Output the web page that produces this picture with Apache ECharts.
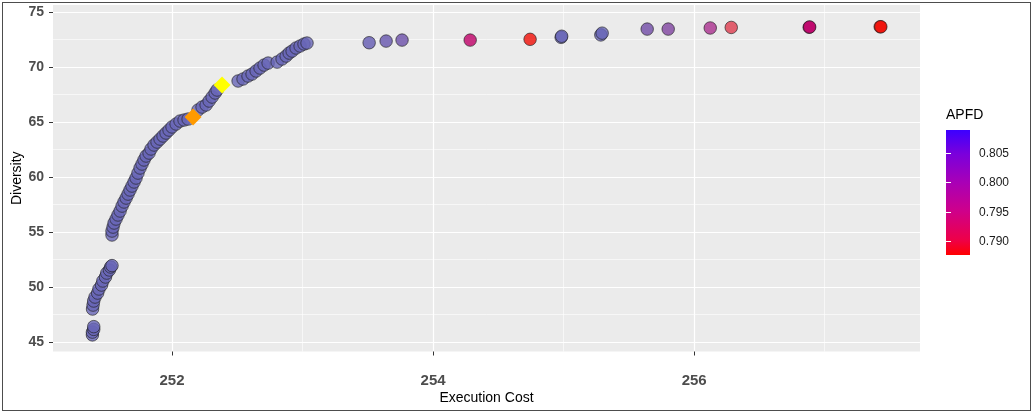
<!DOCTYPE html>
<html>
<head>
<meta charset="utf-8">
<script src="https://cdn.jsdelivr.net/npm/echarts@6/dist/echarts.min.js"></script>
<style>
  html, body { margin: 0; padding: 0; background: #ffffff; }
  #chart { position: absolute; left: 0; top: 0; width: 1033px; height: 414px; }
  #frame { position: absolute; left: 2px; top: 2px; width: 1027px; height: 407px;
           border: 1px solid #4d4d4d; pointer-events: none; }
</style>
</head>
<body>
<div id="chart"></div>
<div id="frame"></div>
<script>
// Candidate solutions: execution cost vs. diversity, filled by APFD
const cost = [
  251.390, 251.390, 251.400, 251.400,
  251.391, 251.395, 251.400, 251.410, 251.430, 251.440, 251.460, 251.470, 251.490, 251.500, 251.520, 251.530, 251.540,
  251.540, 251.540, 251.548, 251.556, 251.571, 251.586, 251.602, 251.617, 251.632, 251.648,
  251.663, 251.678, 251.693, 251.709, 251.724, 251.739, 251.755, 251.770, 251.785, 251.801,
  251.824, 251.839, 251.862, 251.885, 251.908, 251.931, 251.954, 251.977, 252.000, 252.031,
  252.061, 252.092, 252.123, 252.199, 252.230, 252.261, 252.284, 252.307, 252.330, 252.345,
  252.506, 252.544, 252.582, 252.613, 252.644, 252.674, 252.705, 252.736, 252.805, 252.843,
  252.874, 252.897, 252.920, 252.950, 252.981, 253.011, 253.034,
  253.510, 253.640, 253.762, 254.284, 254.743, 254.981, 254.985, 255.285, 255.295,
  255.640, 255.801, 256.123, 256.284, 256.881, 256.885, 257.425, 257.430
];
const diversity = [
  45.65, 45.90, 46.15, 46.40,
  48.00, 48.36, 48.73, 49.09, 49.45, 49.82, 50.18, 50.55, 50.91, 51.27, 51.55, 51.82, 51.95,
  54.73, 55.09, 55.45, 55.82, 56.18, 56.55, 56.91, 57.36, 57.73, 58.09,
  58.45, 58.82, 59.18, 59.55, 59.91, 60.36, 60.82, 61.18, 61.55, 61.91,
  62.18, 62.55, 62.91, 63.18, 63.45, 63.73, 64.00, 64.27, 64.55, 64.82,
  65.09, 65.18, 65.27, 66.09, 66.36, 66.55, 66.91, 67.27, 67.64, 67.91,
  68.73, 68.91, 69.18, 69.36, 69.64, 69.91, 70.18, 70.36, 70.45, 70.73,
  71.00, 71.27, 71.45, 71.73, 71.91, 72.09, 72.18,
  72.21, 72.36, 72.45, 72.45, 72.52, 72.70, 72.80, 72.92, 73.08,
  73.45, 73.45, 73.55, 73.60, 73.62, 73.64, 73.66, 73.66
];
const apfd = [
  0.808, 0.808, 0.808, 0.808,
  0.808, 0.808, 0.808, 0.808, 0.808, 0.808, 0.808, 0.808, 0.808, 0.808, 0.808, 0.808, 0.808,
  0.808, 0.808, 0.808, 0.808, 0.808, 0.808, 0.808, 0.808, 0.808, 0.808,
  0.808, 0.808, 0.808, 0.808, 0.808, 0.808, 0.808, 0.808, 0.808, 0.808,
  0.808, 0.808, 0.808, 0.808, 0.808, 0.808, 0.808, 0.808, 0.808, 0.808,
  0.808, 0.808, 0.808, 0.808, 0.808, 0.808, 0.808, 0.808, 0.808, 0.808,
  0.808, 0.808, 0.808, 0.808, 0.808, 0.808, 0.808, 0.808, 0.808, 0.808,
  0.808, 0.808, 0.808, 0.808, 0.808, 0.808, 0.808,
  0.8058, 0.8048, 0.8035, 0.7948, 0.7880, 0.8080, 0.8080, 0.8080, 0.8080,
  0.8025, 0.8012, 0.7985, 0.7913, 0.7950, 0.7950, 0.7880, 0.7880
];

// Two highlighted solutions drawn as diamonds
const markedCost = [252.161, 252.383];
const markedDiversity = [65.45, 68.36];

// Axis breaks
const costTicks = [252, 254, 256];
const costMinor = [253, 255, 257];
const diversityTicks = [45, 50, 55, 60, 65, 70, 75];
const diversityMinor = [47.5, 52.5, 57.5, 62.5, 67.5, 72.5];
const apfdTicks = [0.790, 0.795, 0.800, 0.805];
const apfdRange = [0.78774, 0.80895];

const costRange = [251.088, 257.73];
const diversityRange = [44.14, 75.64];

const FONT = '"Liberation Sans", Arial, sans-serif';

const points = cost.map((c, i) => [c, diversity[i], apfd[i]]);

const chart = echarts.init(document.getElementById('chart'), null, { renderer: 'canvas' });

chart.setOption({
  animation: false,
  backgroundColor: '#ffffff',
  textStyle: { fontFamily: FONT },
  grid: [
    { left: 53, right: 113, top: 5, bottom: 62.5, show: true,
      backgroundColor: '#EBEBEB', borderWidth: 0, containLabel: false, outerBoundsMode: 'none' },
    { left: 946, top: 130, width: 24, height: 125, show: false,
      containLabel: false, outerBoundsMode: 'none' }
  ],
  xAxis: [
    {
      type: 'value', gridIndex: 0, min: costRange[0], max: costRange[1],
      axisLine: { show: false },
      axisTick: { show: true, length: 4, customValues: costTicks,
                  lineStyle: { color: '#333333', width: 1 } },
      axisLabel: { customValues: costTicks, margin: 22, fontSize: 15, fontWeight: 'bold',
                   color: '#4D4D4D', fontFamily: FONT },
      splitLine: { show: true, lineStyle: { color: '#FFFFFF', width: 1.2 } },
      name: 'Execution Cost', nameLocation: 'middle', nameGap: 40, nameMoveOverlap: false,
      nameTextStyle: { fontSize: 14, color: '#000000', fontFamily: FONT }
    },
    {
      type: 'value', gridIndex: 0, position: 'bottom', min: costRange[0], max: costRange[1],
      axisLine: { show: false },
      axisTick: { show: false, customValues: costMinor },
      axisLabel: { show: false },
      splitLine: { show: true, lineStyle: { color: '#FFFFFF', width: 0.6 } }
    },
    {
      type: 'value', gridIndex: 1, min: 0, max: 1, show: false
    }
  ],
  yAxis: [
    {
      type: 'value', gridIndex: 0, min: diversityRange[0], max: diversityRange[1],
      axisLine: { show: false },
      axisTick: { show: true, length: 4, customValues: diversityTicks,
                  lineStyle: { color: '#333333', width: 1 } },
      axisLabel: { customValues: diversityTicks, margin: 9, fontSize: 14, fontWeight: 'bold',
                   color: '#4D4D4D', fontFamily: FONT },
      splitLine: { show: true, lineStyle: { color: '#FFFFFF', width: 1.2 } },
      name: 'Diversity', nameLocation: 'middle', nameGap: 29, nameRotate: 90, nameMoveOverlap: false,
      nameTextStyle: { fontSize: 14, color: '#000000', fontFamily: FONT }
    },
    {
      type: 'value', gridIndex: 0, position: 'left', min: diversityRange[0], max: diversityRange[1],
      axisLine: { show: false },
      axisTick: { show: false, customValues: diversityMinor },
      axisLabel: { show: false },
      splitLine: { show: true, lineStyle: { color: '#FFFFFF', width: 0.6 } }
    },
    {
      // colour bar labels (right side of the bar)
      type: 'value', gridIndex: 1, position: 'right', min: apfdRange[0], max: apfdRange[1],
      axisLine: { show: false },
      axisTick: { show: true, inside: true, length: 5, customValues: apfdTicks,
                  lineStyle: { color: '#FFFFFF', width: 1 } },
      axisLabel: { customValues: apfdTicks, margin: 9, fontSize: 12, color: '#1A1A1A',
                   fontFamily: FONT, formatter: v => v.toFixed(3) },
      splitLine: { show: false }
    },
    {
      // colour bar left ticks and title
      type: 'value', gridIndex: 1, position: 'left', min: apfdRange[0], max: apfdRange[1],
      axisLine: { show: false },
      axisTick: { show: true, inside: true, length: 5, customValues: apfdTicks,
                  lineStyle: { color: '#FFFFFF', width: 1 } },
      axisLabel: { show: false },
      splitLine: { show: false },
      name: 'APFD', nameLocation: 'end', nameGap: 8,
      nameTextStyle: { fontSize: 14, color: '#000000', align: 'left',
                       verticalAlign: 'bottom', fontFamily: FONT }
    }
  ],
  visualMap: [{
    type: 'continuous', show: false, seriesIndex: 0, dimension: 2,
    min: apfdRange[0], max: apfdRange[1],
    inRange: { color: ['#F10A00', '#DE3C4F', '#BF0068', '#AC2F8D', '#7448A4', '#6258B0', '#6A6ABA'] }
  }],
  series: [
    {
      type: 'scatter', xAxisIndex: 0, yAxisIndex: 0, data: points,
      symbol: 'circle', symbolSize: 12.5,
      itemStyle: { opacity: 0.8, borderColor: 'rgba(30,30,30,0.8)', borderWidth: 1 },
      silent: true, z: 3
    },
    {
      type: 'scatter', xAxisIndex: 0, yAxisIndex: 0,
      data: [[markedCost[0], markedDiversity[0]]],
      symbol: 'diamond', symbolSize: [17, 17],
      itemStyle: { color: '#FF9A00', opacity: 1 }, silent: true, z: 4
    },
    {
      type: 'scatter', xAxisIndex: 0, yAxisIndex: 0,
      data: [[markedCost[1], markedDiversity[1]]],
      symbol: 'diamond', symbolSize: [17, 17],
      itemStyle: { color: '#FFFF00', opacity: 1 }, silent: true, z: 4
    },
    {
      // APFD colour bar
      type: 'custom', xAxisIndex: 2, yAxisIndex: 2, silent: true, z: -1,
      data: [[0, apfdRange[0], apfdRange[1]]],
      renderItem: (params, api) => {
        const topLeft = api.coord([0, api.value(2)]);
        const bottomRight = api.coord([1, api.value(1)]);
        return {
          type: 'rect',
          shape: { x: topLeft[0], y: topLeft[1],
                   width: bottomRight[0] - topLeft[0], height: bottomRight[1] - topLeft[1] },
          style: {
            fill: new echarts.graphic.LinearGradient(0, 0, 0, 1, [
              { offset: 0.00, color: '#3C00FF' },
              { offset: 0.19, color: '#7A00DC' },
              { offset: 0.42, color: '#A900B6' },
              { offset: 0.65, color: '#CF008A' },
              { offset: 0.88, color: '#EE0048' },
              { offset: 1.00, color: '#FF0000' }
            ])
          }
        };
      }
    }
  ]
});
</script>
</body>
</html>
